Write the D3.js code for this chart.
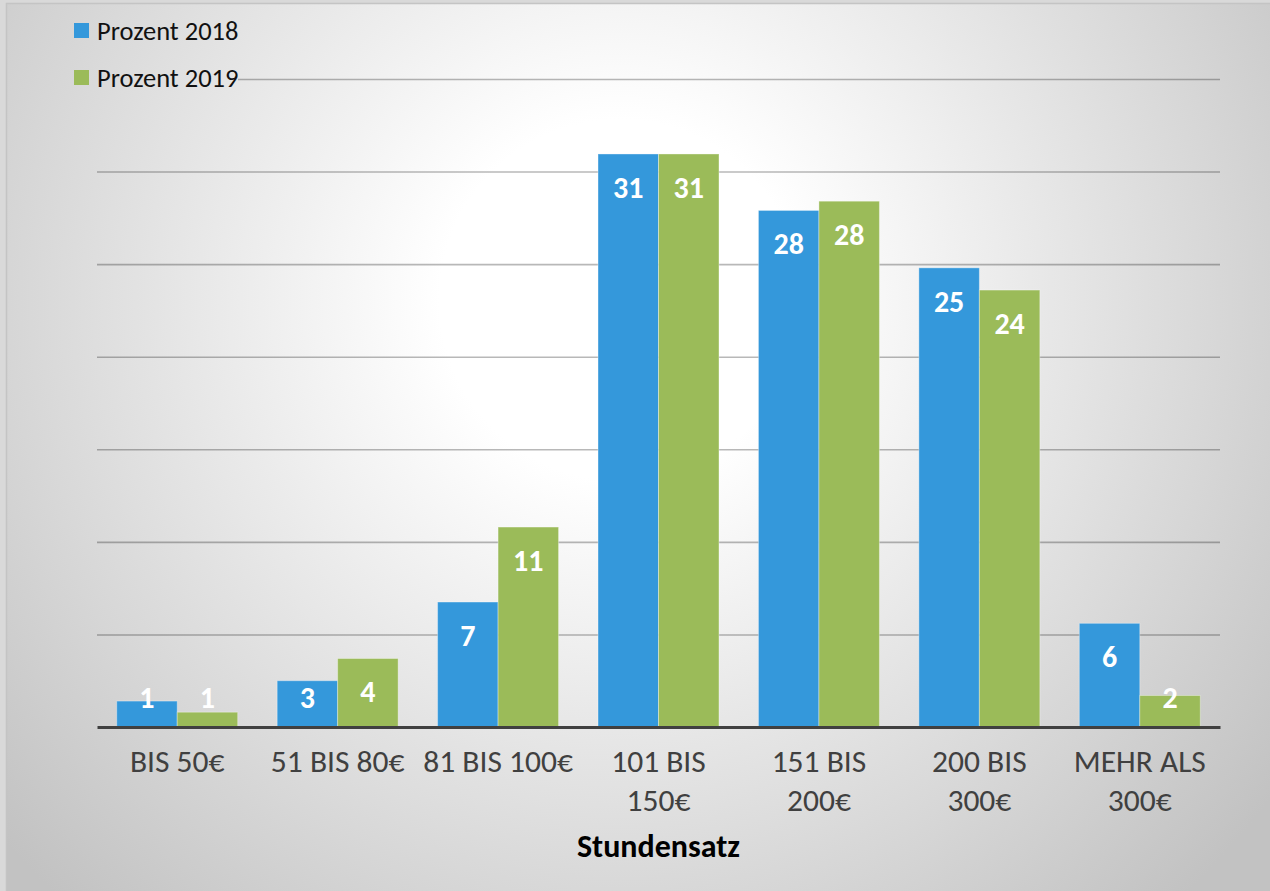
<!DOCTYPE html>
<html>
<head>
<meta charset="utf-8">
<script src="https://cdn.jsdelivr.net/npm/d3@7"></script>
<style>
  html, body { margin: 0; padding: 0; background: #d9d9d9; }
  svg { display: block; }
  text { font-family: Carlito, Calibri, Lato, "Open Sans", sans-serif; }
</style>
</head>
<body>
<svg id="chart" width="1270" height="891"></svg>
<script>
// Hourly rate bands (Stundensatz) and share of respondents, in percent
const categories = ["BIS 50€", "51 BIS 80€", "81 BIS 100€", "101 BIS 150€", "151 BIS 200€", "200 BIS 300€", "MEHR ALS 300€"];
const tickLabels = [["BIS 50€"], ["51 BIS 80€"], ["81 BIS 100€"], ["101 BIS", "150€"], ["151 BIS", "200€"], ["200 BIS", "300€"], ["MEHR ALS", "300€"]];
const seriesNames = ["Prozent 2018", "Prozent 2019"];
const values2018 = [1.4, 2.5, 6.75, 30.95, 27.9, 24.8, 5.6];
const values2019 = [0.8, 3.7, 10.8, 30.95, 28.4, 23.6, 1.7];
const gridValues = [5, 10, 15, 20, 25, 30, 35];
const colors = ["#3498db", "#9bbb59"];

const W = 1270, H = 891;
const plot = { left: 97, right: 1220, top: 79, bottom: 727 };

const svg = d3.select("#chart");
const defs = svg.append("defs");

// Soft radial backdrop
const grad = defs.append("radialGradient")
  .attr("id", "bg")
  .attr("gradientUnits", "userSpaceOnUse")
  .attr("cx", 620).attr("cy", 300).attr("r", 820);
grad.append("stop").attr("offset", 0).attr("stop-color", "#ffffff");
grad.append("stop").attr("offset", 0.22).attr("stop-color", "#ffffff");
grad.append("stop").attr("offset", 1).attr("stop-color", "#c2c2c2");

svg.append("rect").attr("width", W).attr("height", H).attr("fill", "#d9d9d9");
svg.append("rect").attr("x", 7).attr("y", 4).attr("width", W - 7).attr("height", H - 4)
  .attr("fill", "url(#bg)");
svg.append("path").attr("d", `M6.5,${H} V3.5 H${W}`)
  .attr("fill", "none").attr("stroke", "#c4c4c4").attr("stroke-width", 1.5);

// Scales
const x = d3.scaleBand()
  .domain(categories)
  .range([plot.left, plot.right])
  .paddingInner(0.246)
  .paddingOuter(0.123);
const xs = d3.scaleBand().domain(seriesNames).range([0, x.bandwidth()]);
const y = d3.scaleLinear().domain([0, 35]).range([plot.bottom, plot.top]);

// Gridlines
const grid = svg.append("g")
  .attr("transform", `translate(${plot.left},0)`)
  .call(d3.axisLeft(y).tickValues(gridValues).tickSize(-(plot.right - plot.left)).tickFormat(""));
grid.select(".domain").remove();
grid.selectAll(".tick line").attr("stroke", "rgba(0,0,0,0.28)").attr("stroke-width", 1.6);

// Bars
const series = [values2018, values2019];
const groups = svg.append("g").selectAll("g")
  .data(series)
  .join("g")
  .attr("fill", (d, i) => colors[i]);

groups.each(function (vals, si) {
  const g = d3.select(this);
  const rows = vals.map((v, ci) => ({ v, c: categories[ci], s: seriesNames[si] }));
  g.selectAll("rect")
    .data(rows)
    .join("rect")
    .attr("x", d => x(d.c) + xs(d.s))
    .attr("y", d => y(d.v))
    .attr("width", xs.bandwidth())
    .attr("height", d => y(0) - y(d.v))
    .attr("stroke", "rgba(255,255,255,0.35)")
    .attr("stroke-width", 1);

  // Value labels, placed inside the bar end
  g.selectAll("text")
    .data(rows)
    .join("text")
    .attr("x", d => x(d.c) + xs(d.s) + xs.bandwidth() / 2)
    .attr("y", d => Math.min(y(d.v) + 33, y(0) - 30))
    .attr("dy", "0.36em")
    .attr("text-anchor", "middle")
    .attr("fill", "#ffffff")
    .attr("font-weight", "bold")
    .attr("font-size", 30)
    .text(d => Math.round(d.v));
});

// Category axis
const xAxis = svg.append("g")
  .attr("transform", `translate(0,${plot.bottom})`)
  .call(d3.axisBottom(x).tickSize(0).tickSizeOuter(0).tickFormat(""));
xAxis.select(".domain").attr("stroke", "#404040").attr("stroke-width", 3.2);
xAxis.selectAll(".tick text").remove();
xAxis.selectAll(".tick").each(function (c, i) {
  const t = d3.select(this).append("text")
    .attr("fill", "#404040")
    .attr("font-size", 31.5)
    .attr("text-anchor", "middle")
    .attr("y", 45);
  tickLabels[i].forEach((line, li) => {
    t.append("tspan").attr("x", 0).attr("dy", li === 0 ? 0 : 39).text(line);
  });
});

// Axis title
svg.append("text")
  .attr("x", (plot.left + plot.right) / 2)
  .attr("y", 857)
  .attr("text-anchor", "middle")
  .attr("font-weight", "bold")
  .attr("font-size", 32)
  .attr("fill", "#000")
  .text("Stundensatz");

// Legend, on a backdrop that hides the gridline running beneath it
svg.append("rect")
  .attr("x", 66).attr("y", 12).attr("width", 172).attr("height", 84)
  .attr("fill", "url(#bg)");
const legend = svg.append("g").selectAll("g")
  .data(seriesNames)
  .join("g")
  .attr("transform", (d, i) => `translate(74,${23 + i * 47})`);
legend.append("rect").attr("width", 15).attr("height", 15).attr("fill", (d, i) => colors[i]);
legend.append("text")
  .attr("x", 23).attr("y", 7.5).attr("dy", "0.36em")
  .attr("font-size", 26.5)
  .attr("fill", "#111")
  .text(d => d);
</script>
</body>
</html>
